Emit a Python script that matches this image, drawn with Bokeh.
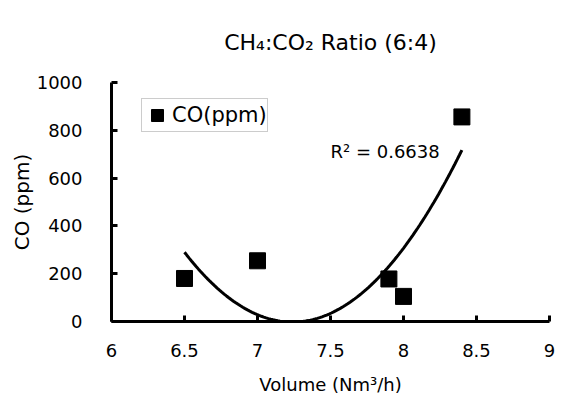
import numpy as np
from bokeh.plotting import figure
from bokeh.models import Range1d, Legend, LegendItem, Label, FixedTicker
from bokeh.embed import file_html
from bokeh.resources import INLINE

volume = [6.5, 7.0, 7.9, 8.0, 8.4]
co_ppm = [180, 254, 178, 105, 856]
x_ticks = [6, 6.5, 7, 7.5, 8, 8.5, 9]
y_ticks = [0, 200, 400, 600, 800, 1000]
title_text = "CH\u2084:CO\u2082 Ratio (6:4)"
r2_text = "R\u00b2 = 0.6638"

FONT = "DejaVu Sans"

p = figure(width=563, height=402, output_backend="svg", toolbar_location=None,
           x_range=Range1d(6, 9), y_range=Range1d(0, 1000),
           min_border_left=111, min_border_right=14, min_border_top=82, min_border_bottom=81,
           title=title_text)
p.outline_line_color = None
p.grid.visible = False
p.background_fill_color = "white"
p.border_fill_color = "white"

p.title.align = "center"
p.title.text_font = FONT
p.title.text_font_size = "22px"
p.title.text_font_style = "normal"
p.title.text_color = "black"
p.title.standoff = 55

for ax in (p.xaxis[0], p.yaxis[0]):
    ax.axis_line_width = 3
    ax.axis_line_color = "black"
    ax.major_tick_in = 6
    ax.major_tick_out = 0
    ax.major_tick_line_width = 3
    ax.minor_tick_line_color = None
    ax.major_label_text_font = FONT
    ax.major_label_text_font_size = "18px"
    ax.major_label_text_color = "black"
    ax.axis_label_text_font = FONT
    ax.axis_label_text_font_style = "normal"
    ax.axis_label_text_color = "black"

p.xaxis.ticker = FixedTicker(ticks=x_ticks)
p.yaxis.ticker = FixedTicker(ticks=y_ticks)
p.xaxis.major_label_standoff = 22
p.yaxis.major_label_standoff = 29
p.xaxis.axis_label = "Volume (Nm\u00b3/h)"
p.yaxis.axis_label = "CO (ppm)"
p.xaxis.axis_label_text_font_size = "18px"
p.yaxis.axis_label_text_font_size = "20px"
p.xaxis.axis_label_standoff = 14
p.yaxis.axis_label_standoff = 0

# quadratic trendline fitted to the data
coef = np.polyfit(volume, co_ppm, 2)
xs = np.linspace(min(volume), max(volume), 120)
ys = np.polyval(coef, xs)
p.line(xs, ys, line_color="black", line_width=3)

r = p.scatter(volume, co_ppm, marker="square", size=16, fill_color="black", line_color="black")

legend = Legend(items=[LegendItem(label="CO(ppm)", renderers=[r])], location=(30, 189))
legend.label_text_font = FONT
legend.label_text_font_size = "21px"
legend.label_text_color = "black"
legend.border_line_color = "#999999"
legend.border_line_width = 1
legend.padding = 0
legend.margin = 0
legend.glyph_width = 30
legend.glyph_height = 32
legend.label_standoff = 0
legend.label_height = 32
p.add_layout(legend, "center")

p.add_layout(Label(x=7.5, y=711, text=r2_text, text_font=FONT, text_font_size="18px",
                   text_baseline="middle", text_color="black"))

open("out.html", "w").write(file_html(p, INLINE))
